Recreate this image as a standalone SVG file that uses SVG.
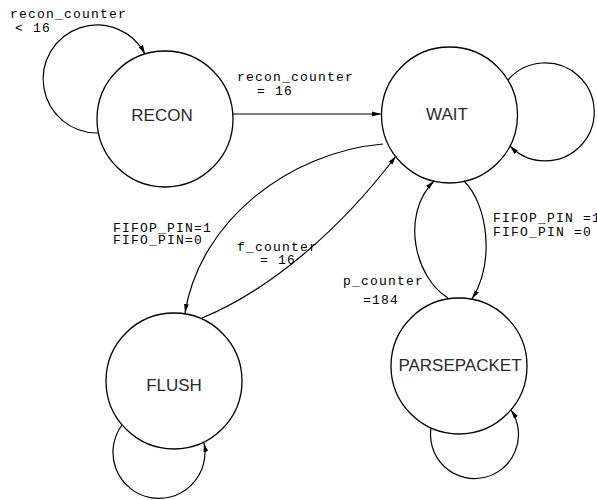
<svg xmlns="http://www.w3.org/2000/svg" width="597" height="500" viewBox="0 0 597 500">
<style>
.node{fill:#fff;stroke:#000;stroke-width:1.3}
.lbl{font-family:"Liberation Sans",Arial,sans-serif;font-size:17px;fill:#2a2a2a;text-anchor:middle}
.edge{fill:none;stroke:#000;stroke-width:1.2;marker-end:url(#arr)}
.cond{font-family:"Liberation Mono","Courier New",monospace;font-size:13px;letter-spacing:1.2px;fill:#000}
</style>
<defs>
<marker id="arr" markerWidth="9" markerHeight="6" refX="9" refY="3" orient="auto" markerUnits="userSpaceOnUse">
<path d="M0,0.6 L9,3 L0,5.4 z" fill="#000"/>
</marker>
</defs>
<rect width="597" height="500" fill="#fff"/>
<g id="RECON"><circle class="node" cx="165" cy="119" r="68"/><text class="lbl" x="162" y="121">RECON</text></g>
<g id="WAIT"><circle class="node" cx="449.5" cy="115" r="68"/><text class="lbl" x="447" y="120">WAIT</text></g>
<g id="FLUSH"><circle class="node" cx="174" cy="381" r="68"/><text class="lbl" x="174" y="391">FLUSH</text></g>
<g id="PARSEPACKET"><circle class="node" cx="459" cy="366" r="68"/><text class="lbl" x="460" y="371">PARSEPACKET</text></g>
<g id="connectors">
<path class="edge" d="M98,133 A54,54 0 1,1 145,54"/>
<path class="edge" d="M233,114 L381,114"/>
<path class="edge" d="M508,80 A49,49 0 1,1 510,146"/>
<path class="edge" d="M383,144 C290,152 200,220 185,313"/>
<path class="edge" d="M202,318 C270,290 340,230 396,156"/>
<path class="edge" d="M464,181 C488,205 495,262 472,299"/>
<path class="edge" d="M448,298 C415,278 400,215 434,181"/>
<path class="edge" d="M122,425 A46,46 0 1,0 204,443"/>
<path class="edge" d="M431,428 A44,44 0 1,0 511,410"/>
</g>
<g id="labels">
<text class="cond" x="10" y="18">recon_counter</text>
<text class="cond" x="15" y="32">&lt; 16</text>
<text class="cond" x="237" y="81">recon_counter</text>
<text class="cond" x="257" y="95">= 16</text>
<text class="cond" x="113" y="232">FIFOP_PIN=1</text>
<text class="cond" x="113" y="244">FIFO_PIN=0</text>
<text class="cond" x="237" y="251">f_counter</text>
<text class="cond" x="260" y="264">= 16</text>
<text class="cond" x="343" y="285">p_counter</text>
<text class="cond" x="363" y="304">=184</text>
<text class="cond" x="493" y="222">FIFOP_PIN =1</text>
<text class="cond" x="493" y="236">FIFO_PIN =0</text>
</g>
</svg>
